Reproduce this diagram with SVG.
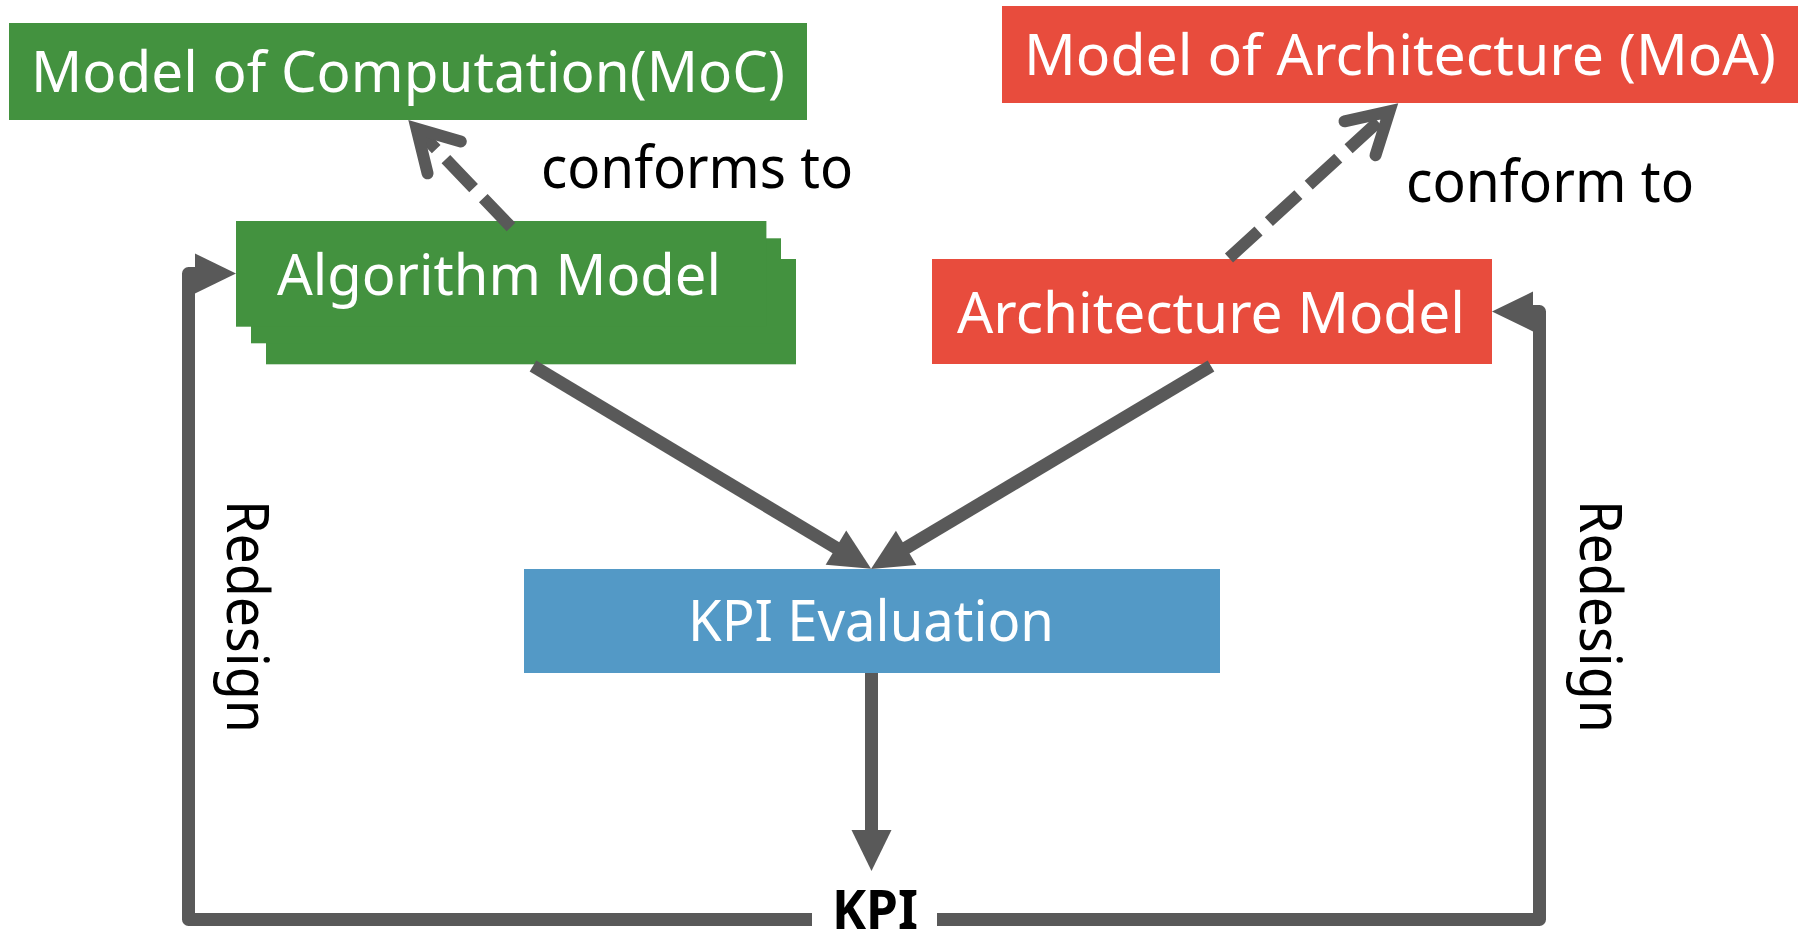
<svg xmlns="http://www.w3.org/2000/svg" width="1804" height="945" viewBox="0 0 1804 945">
  <style>
    .green { fill: #43923F; }
    .red { fill: #E84C3D; }
    .blue { fill: #5399C6; }
    .box-label { font-family: "Noto Sans", "Open Sans", sans-serif; font-size: 56px; fill: #FFFFFF; }
    .note { font-family: "Noto Sans", "Open Sans", sans-serif; font-size: 58px; fill: #000000; }
    .kpi { font-family: "Noto Sans", "Open Sans", sans-serif; font-size: 54px; font-weight: bold; fill: #000000; }
    .loop-label { font-family: "Noto Sans", "DejaVu Sans", sans-serif; font-size: 58px; fill: #000000; }
    .wire { fill: none; stroke: #595959; stroke-width: 13; stroke-linejoin: round; }
    .dashed { fill: none; stroke: #595959; stroke-width: 12; stroke-dasharray: 40 14; }
  </style>
  <defs>
    <!-- filled triangular head; origin sits at the base of the head -->
    <marker id="solid-head" markerUnits="userSpaceOnUse" orient="auto" refX="0" refY="0" markerWidth="60" markerHeight="60" overflow="visible">
      <path d="M -1 -20 L 40 0 L -1 20 Z" fill="#595959"/>
    </marker>
    <!-- open chevron head; origin sits at the inner vertex -->
    <marker id="open-head" markerUnits="userSpaceOnUse" orient="auto" refX="0" refY="0" markerWidth="80" markerHeight="80" overflow="visible">
      <path d="M -39.8 -23 L 0 0 L -39.8 23" fill="none" stroke="#595959" stroke-width="12" stroke-linecap="round" stroke-linejoin="miter"/>
    </marker>
  </defs>

  <rect x="0" y="0" width="1804" height="945" fill="#FFFFFF"/>

  <g id="moc">
    <rect class="green" x="9" y="23" width="798" height="97"/>
    <text class="box-label" x="31" y="91.5" textLength="754" lengthAdjust="spacingAndGlyphs">Model of Computation(MoC)</text>
  </g>

  <g id="moa">
    <rect class="red" x="1002" y="6" width="796" height="97"/>
    <text class="box-label" x="1024" y="75" textLength="752" lengthAdjust="spacingAndGlyphs">Model of Architecture (MoA)</text>
  </g>

  <g id="algorithm-model">
    <rect class="green" x="266" y="259" width="530" height="105.3"/>
    <rect class="green" x="251" y="238.3" width="530" height="105"/>
    <rect class="green" x="236" y="221" width="530.4" height="105.7"/>
    <text class="box-label" x="277" y="295" textLength="444" lengthAdjust="spacingAndGlyphs">Algorithm Model</text>
  </g>

  <g id="architecture-model">
    <rect class="red" x="932" y="259" width="560" height="105"/>
    <text class="box-label" x="957" y="333" textLength="508" lengthAdjust="spacingAndGlyphs">Architecture Model</text>
  </g>

  <g id="kpi-evaluation">
    <rect class="blue" x="524" y="569" width="696" height="104"/>
    <text class="box-label" x="688" y="641" textLength="366" lengthAdjust="spacingAndGlyphs">KPI Evaluation</text>
  </g>

  <g id="kpi">
    <text class="kpi" x="832" y="929" textLength="86" lengthAdjust="spacingAndGlyphs">KPI</text>
  </g>

  <g id="connectors">
    <!-- conformance links (dashed) -->
    <path class="dashed" d="M 511 227 L 416.6 128.7" marker-end="url(#open-head)"/>
    <path class="dashed" d="M 1229 258 L 1389.4 111.4" marker-end="url(#open-head)"/>
    <!-- models into evaluation -->
    <path class="wire" d="M 533 366 L 836.8 548.2" marker-end="url(#solid-head)"/>
    <path class="wire" d="M 1211 366 L 905.3 548.4" marker-end="url(#solid-head)"/>
    <!-- evaluation to KPI -->
    <path class="wire" d="M 871.5 673 V 831" marker-end="url(#solid-head)"/>
    <!-- redesign feedback loops -->
    <path class="wire" d="M 812 919.5 H 188.5 V 273.5 H 196" marker-end="url(#solid-head)"/>
    <path class="wire" d="M 937 919.5 H 1539.5 V 311.5 H 1532" marker-end="url(#solid-head)"/>
  </g>

  <g id="labels">
    <text class="note" x="541" y="188" textLength="312" lengthAdjust="spacingAndGlyphs">conforms to</text>
    <text class="note" x="1406" y="201.7" textLength="288" lengthAdjust="spacingAndGlyphs">conform to</text>
    <text class="loop-label" transform="translate(226.7,500) rotate(90)" x="0" y="0" textLength="233" lengthAdjust="spacingAndGlyphs">Redesign</text>
    <text class="loop-label" transform="translate(1580,500) rotate(90)" x="0" y="0" textLength="233" lengthAdjust="spacingAndGlyphs">Redesign</text>
  </g>
</svg>
